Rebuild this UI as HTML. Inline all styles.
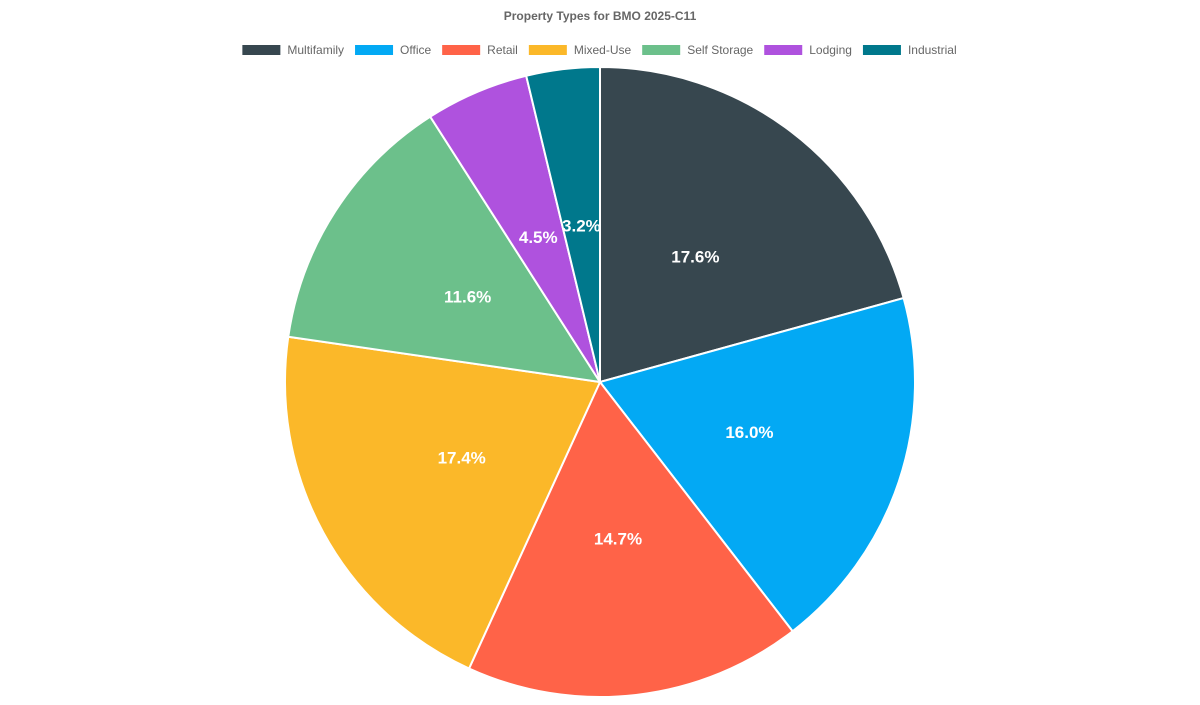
<!DOCTYPE html>
<html><head><meta charset="utf-8"><style>
body{margin:0;background:#fff;font-family:"Liberation Sans",Arial,sans-serif}
</style></head><body>
<svg id="chart" width="1200" height="700" xmlns="http://www.w3.org/2000/svg">
<text x="600" y="20" text-anchor="middle" font-size="12" font-weight="bold" fill="#666" font-family="Liberation Sans, sans-serif">Property Types for BMO 2025-C11</text>
<g id="legend"></g>
<g id="slices"></g>
<g id="labels"></g>
</svg>
<script>
const categories=["Multifamily","Office","Retail","Mixed-Use","Self Storage","Lodging","Industrial"];
const values=[17.6,16.0,14.7,17.4,11.6,4.5,3.2];
const colors=["#37474f","#03a9f4","#ff6348","#fbb829","#6cc08b","#af52de","#00788c"];
const NS="http://www.w3.org/2000/svg";
const cx=600,cy=382,r=315;
const total=values.reduce((a,b)=>a+b,0);
const sl=document.getElementById('slices'),lb=document.getElementById('labels'),lg=document.getElementById('legend');
let a0=-Math.PI/2;
values.forEach((v,i)=>{
 const a1=a0+v/total*2*Math.PI;
 const x0=cx+r*Math.cos(a0),y0=cy+r*Math.sin(a0),x1=cx+r*Math.cos(a1),y1=cy+r*Math.sin(a1);
 const p=document.createElementNS(NS,'path');
 p.setAttribute('d',`M${cx},${cy}L${x0},${y0}A${r},${r} 0 ${a1-a0>Math.PI?1:0} 1 ${x1},${y1}Z`);
 p.setAttribute('fill',colors[i]);p.setAttribute('stroke','#fff');p.setAttribute('stroke-width','2');
 
 
 sl.appendChild(p);
 const am=(a0+a1)/2;
 const t=document.createElementNS(NS,'text');
 t.setAttribute('x',cx+r/2*Math.cos(am));t.setAttribute('y',cy+r/2*Math.sin(am)+6);
 t.setAttribute('text-anchor','middle');t.setAttribute('fill','#fff');t.setAttribute('font-size','17');t.setAttribute('font-weight','bold');
 
 
 t.textContent=v.toFixed(1)+'%';
 lb.appendChild(t);
 a0=a1;
});
// legend
const c=document.createElement('canvas').getContext('2d');c.font='12px "Liberation Sans"';
const widths=categories.map(s=>40+6+c.measureText(s).width);
const gap=10;const tw=widths.reduce((a,b)=>a+b,0)+gap*(categories.length-1);
let x=600-tw/2;
categories.forEach((s,i)=>{
 const g=document.createElementNS(NS,'g');
 
 
 const rc=document.createElementNS(NS,'rect');
 rc.setAttribute('x',x);rc.setAttribute('y',45);rc.setAttribute('width',38);rc.setAttribute('height',10);rc.setAttribute('fill',colors[i]);
 g.appendChild(rc);
 const t=document.createElementNS(NS,'text');
 t.setAttribute('x',x+45);t.setAttribute('y',54);t.setAttribute('font-size','12');t.setAttribute('fill','#666');
 t.textContent=s;g.appendChild(t);
 lg.appendChild(g);
 x+=widths[i]+gap;
});
</script>
</body></html>
